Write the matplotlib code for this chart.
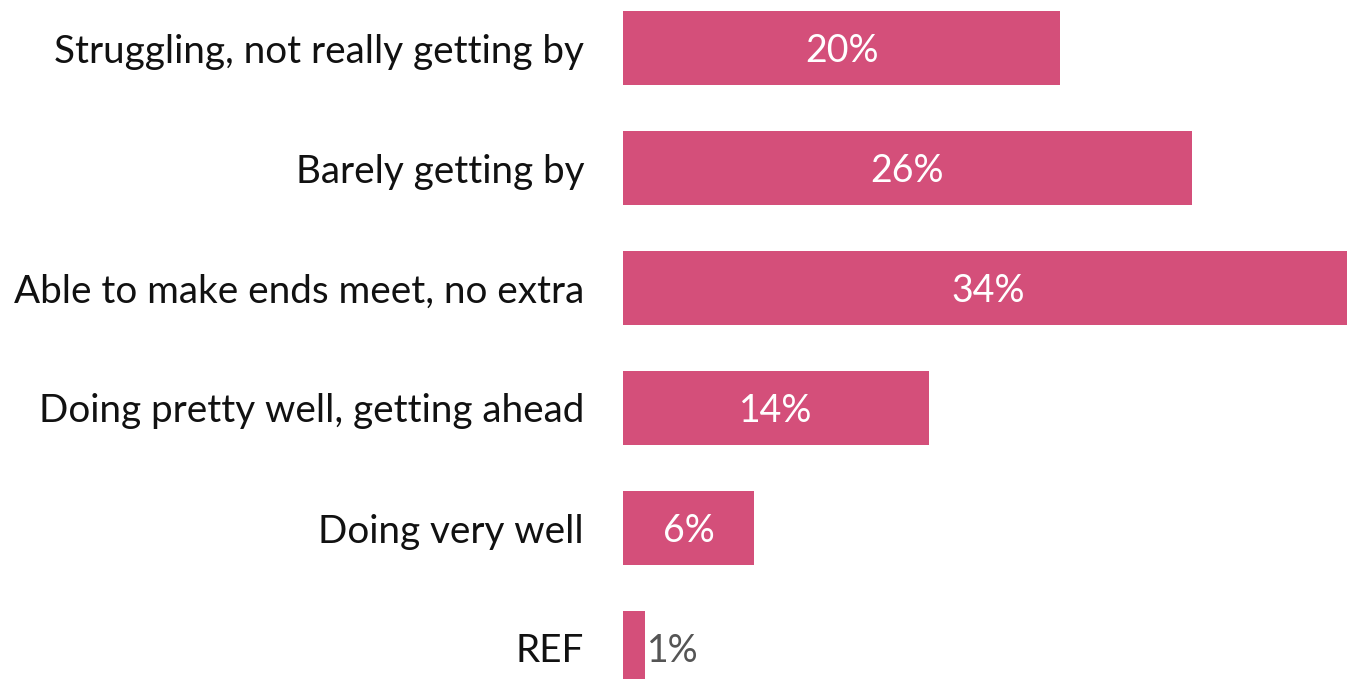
import matplotlib
matplotlib.use("Agg")
import matplotlib.pyplot as plt

categories = ["Struggling, not really getting by", "Barely getting by",
              "Able to make ends meet, no extra", "Doing pretty well, getting ahead",
              "Doing very well", "REF"]
values = [20, 26, 34, 14, 6, 1]
labels = ["20%", "26%", "34%", "14%", "6%", "1%"]

plt.rcParams['font.family'] = ['Lato', 'DejaVu Sans']

fig = plt.figure(figsize=(13.47, 6.79), dpi=100)
ax = fig.add_axes([623/1347, 0, 1 - 623/1347, 1])
color = "#D44F7A"
ypos = list(range(len(categories)))
ax.barh(ypos, values, height=0.617, color=color)
xmax = 33.1
ax.set_xlim(0, xmax)
ax.set_ylim((679-48)/120, -0.4)
for s in ax.spines.values():
    s.set_visible(False)
ax.set_xticks([])
ax.set_yticks(ypos)
ax.set_yticklabels(categories, fontsize=27.8, color="#111111", fontweight='normal')
ax.tick_params(axis='y', length=0, pad=28)
for lab in ax.get_yticklabels():
    lab.set_va('center_baseline')
for y, v, lab in zip(ypos, values, labels):
    if v >= 4:
        ax.text(min(v, xmax) / 2 if v <= xmax else 16.7, y, lab, ha='center',
                va='center_baseline', color='white', fontsize=27)
    else:
        ax.text(v + 0.08, y, lab, ha='left', va='center_baseline', color='#555555',
                fontsize=27)
fig.savefig("out.png", dpi=100)
